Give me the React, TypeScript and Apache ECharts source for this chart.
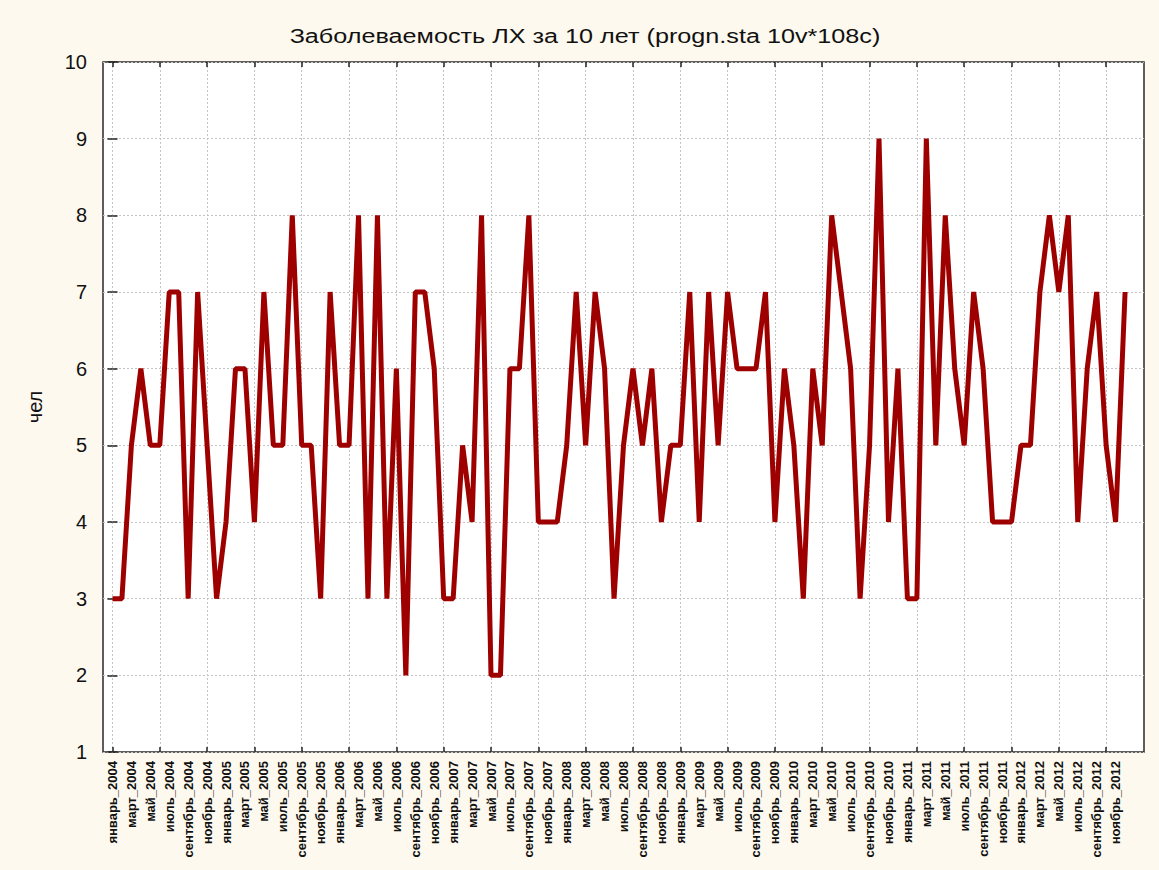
import React, { useEffect, useRef } from "react";
import * as echarts from "echarts";

const titleText = "Заболеваемость ЛХ за 10 лет (progn.sta 10v*108c)";
const yAxisName = "чел";
const monthNames = [
  "январь", "февраль", "март", "апрель", "май", "июнь",
  "июль", "август", "сентябрь", "октябрь", "ноябрь", "декабрь",
];
const years = [2004, 2005, 2006, 2007, 2008, 2009, 2010, 2011, 2012];

// monthly values, январь 2004 .. декабрь 2012 (108 cases)
const cases2004 = [3, 3, 5, 6, 5, 5, 7, 7, 3, 7, 5, 3];
const cases2005 = [4, 6, 6, 4, 7, 5, 5, 8, 5, 5, 3, 7];
const cases2006 = [5, 5, 8, 3, 8, 3, 6, 2, 7, 7, 6, 3];
const cases2007 = [3, 5, 4, 8, 2, 2, 6, 6, 8, 4, 4, 4];
const cases2008 = [5, 7, 5, 7, 6, 3, 5, 6, 5, 6, 4, 5];
const cases2009 = [5, 7, 4, 7, 5, 7, 6, 6, 6, 7, 4, 6];
const cases2010 = [5, 3, 6, 5, 8, 7, 6, 3, 5, 9, 4, 6];
const cases2011 = [3, 3, 9, 5, 8, 6, 5, 7, 6, 4, 4, 4];
const cases2012 = [5, 5, 7, 8, 7, 8, 4, 6, 7, 5, 4, 7];

const yTicks = [1, 2, 3, 4, 5, 6, 7, 8, 9, 10];
const labelStep = 2; // every second month is labelled
const tickStep = 5; // major ticks / vertical grid every 5 cases

export default function App() {
  const ref = useRef<HTMLDivElement>(null);

  useEffect(() => {
    if (!ref.current) return;
    const chart = echarts.init(ref.current, null, { renderer: "svg" });

    const cases = [
      ...cases2004, ...cases2005, ...cases2006, ...cases2007, ...cases2008,
      ...cases2009, ...cases2010, ...cases2011, ...cases2012,
    ];
    const categories: string[] = [];
    years.forEach((y) => monthNames.forEach((m) => categories.push(`${m}_${y}`)));

    const labelIdx: number[] = [];
    for (let i = 0; i < categories.length; i += labelStep) labelIdx.push(i);
    const tickIdx: number[] = [];
    for (let i = 0; i < categories.length; i += tickStep) tickIdx.push(i);

    const font = "Arial, 'Liberation Sans', sans-serif";
    const gridLine = { show: true, lineStyle: { color: "#c4c4c4", type: [2, 2] as any, width: 1 } };
    const tickStyle = { color: "#222", width: 1.5 };

    chart.setOption({
      animation: false,
      backgroundColor: "#FEF9EE",
      textStyle: { fontFamily: font },
      grid: {
        left: 103, right: 15, top: 62, bottom: 118,
        show: true, backgroundColor: "#ffffff", borderColor: "#2a2a2a", borderWidth: 1.5,
      },
      graphic: [
        {
          type: "text",
          x: 585, y: 36,
          scaleX: 1.2,
          style: {
            text: titleText, fontSize: 21, fontFamily: font, fill: "#111",
            align: "center", verticalAlign: "middle",
          },
        },
      ],
      xAxis: [
        {
          type: "value", min: -1, max: 109, position: "bottom",
          axisLine: { show: false },
          axisTick: { show: true, inside: true, length: 5, customValues: tickIdx, lineStyle: tickStyle },
          splitLine: gridLine,
          axisLabel: {
            customValues: labelIdx,
            formatter: (v: number) => categories[Math.round(v)] ?? "",
            rotate: 90, fontSize: 13, fontWeight: "bold", color: "#111", margin: 9,
          },
        },
        {
          type: "value", min: -1, max: 109, position: "top",
          axisLine: { show: false },
          axisTick: { show: true, inside: true, length: 5, customValues: tickIdx, lineStyle: tickStyle },
          splitLine: { show: false },
          axisLabel: { show: false },
        },
      ],
      yAxis: [
        {
          type: "value", min: yTicks[0], max: yTicks[yTicks.length - 1], interval: 1,
          name: yAxisName, nameLocation: "middle", nameGap: 58,
          nameTextStyle: { fontSize: 20, color: "#111" },
          axisLine: { show: false },
          axisTick: { show: true, inside: true, length: 5, lineStyle: tickStyle },
          splitLine: gridLine,
          axisLabel: { fontSize: 20, color: "#111", margin: 16 },
        },
        {
          type: "value", min: yTicks[0], max: yTicks[yTicks.length - 1], interval: 1,
          position: "right",
          axisLine: { show: false },
          axisTick: { show: true, inside: true, length: 5, lineStyle: tickStyle },
          splitLine: { show: false },
          axisLabel: { show: false },
        },
      ],
      series: [
        {
          type: "line",
          xAxisIndex: 0, yAxisIndex: 0,
          data: cases.map((v, i) => [i, v]),
          symbol: "none",
          lineStyle: { color: "#9E0000", width: 5, join: "bevel", cap: "butt" },
        },
      ],
    });

    return () => chart.dispose();
  }, []);

  return (
    <div
      ref={ref}
      style={{ position: "fixed", left: 0, top: 0, width: 1159, height: 870 }}
    />
  );
}
